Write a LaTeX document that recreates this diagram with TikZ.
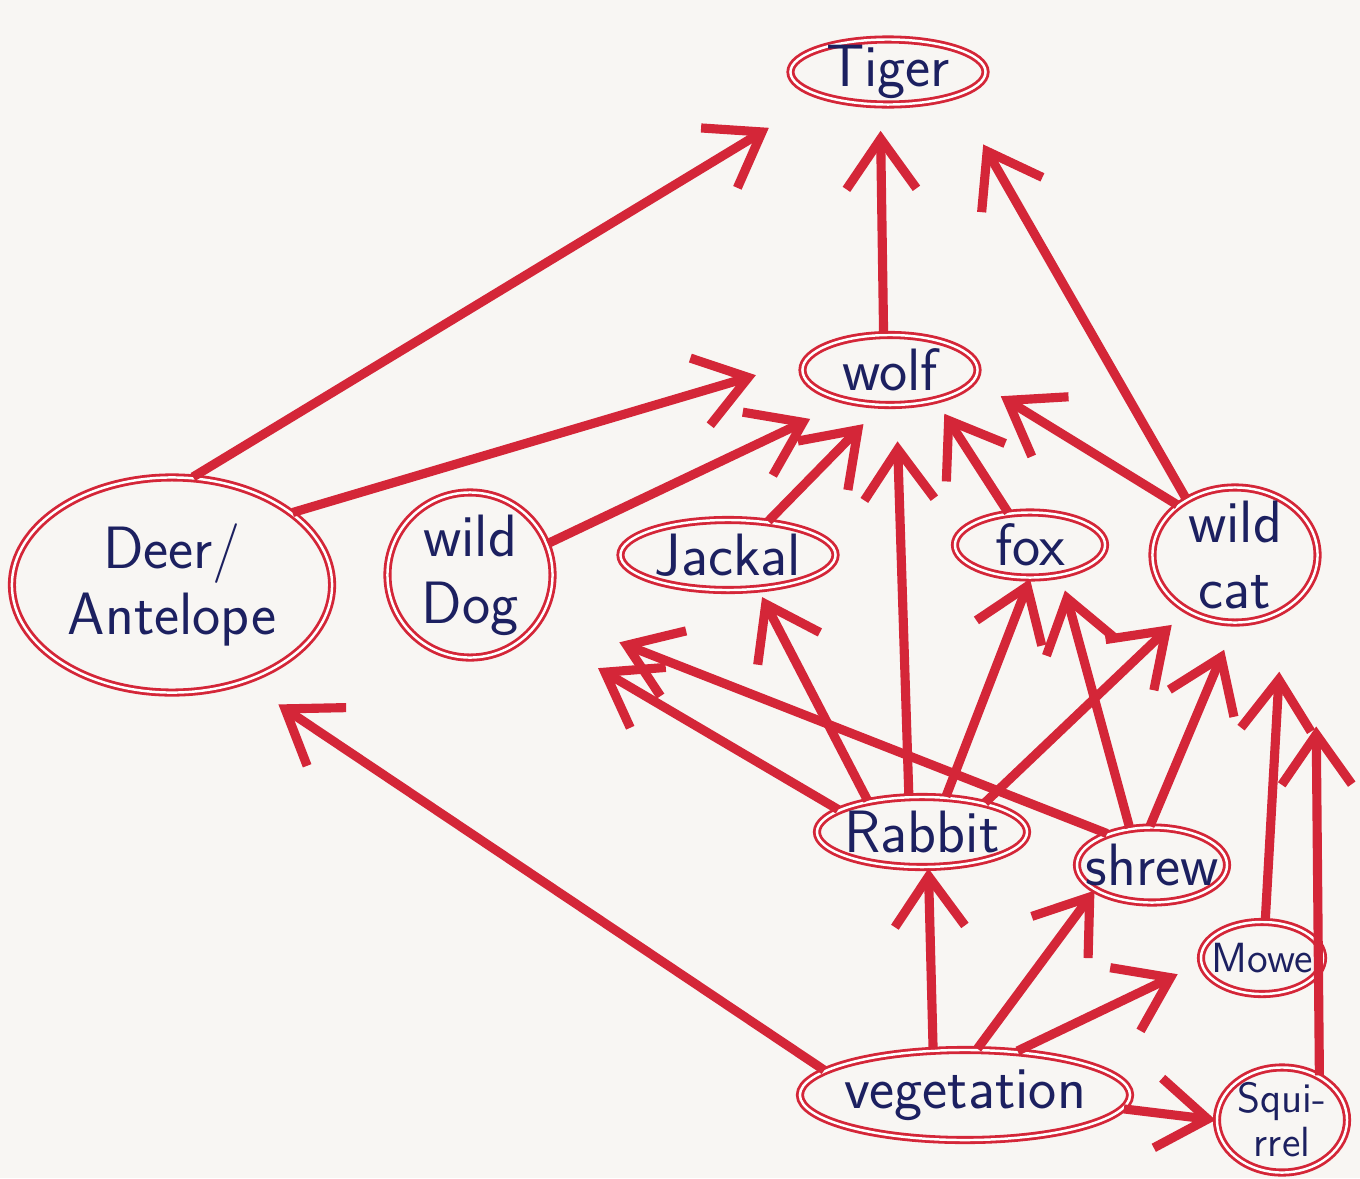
\documentclass[tikz,border=0pt]{standalone}
\usepackage{xcolor}
\usepackage{tikz}
\usetikzlibrary{shapes,arrows.meta,positioning,calc}
\definecolor{penred}{RGB}{212,38,56}
\definecolor{inkblue}{RGB}{28,32,96}
\definecolor{paper}{RGB}{248,246,243}

\begin{document}
\begin{tikzpicture}[x=0.01cm, y=-0.01cm,
    animal/.style={ellipse, draw=penred, double, double distance=0.7pt, line width=0.8pt,
        inner xsep=-0.2cm, inner ysep=-0.15cm, text=inkblue, align=center,
        font=\sffamily\fontsize{17}{19}\selectfont},
    eats/.style={draw=penred, line width=2.6pt, -{Straight Barb[length=5mm,width=7mm]}}]
    \fill[paper] (0,0) rectangle (1360,1178);
    \useasboundingbox (0,0) rectangle (1360,1178);

    % animals
    \node[animal, minimum width=1.95cm, minimum height=0.65cm] (tiger) at (888,72) {Tiger};
    \node[animal, minimum width=1.75cm, minimum height=0.7cm] (wolf) at (890,370) {wolf};
    \node[animal, minimum width=3.2cm, minimum height=2.15cm] (deer) at (172,585) {Deer/\\Antelope};
    \node[animal, minimum width=1.65cm, minimum height=1.65cm] (wilddog) at (470,575) {wild\\Dog};
    \node[animal, minimum width=2.15cm, minimum height=0.7cm] (jackal) at (728,555) {Jackal};
    \node[animal, minimum width=1.5cm, minimum height=0.65cm] (fox) at (1030,545) {fox};
    \node[animal, minimum width=1.65cm, minimum height=1.35cm] (wildcat) at (1235,555) {wild\\cat};
    \node[animal, minimum width=2.1cm, minimum height=0.7cm] (rabbit) at (922,832) {Rabbit};
    \node[animal, minimum width=1.5cm, minimum height=0.75cm] (shrew) at (1152,865) {shrew};
    \node[animal, minimum width=1.22cm, minimum height=0.72cm,
        font=\sffamily\fontsize{12}{13}\selectfont] (mouse) at (1262,958) {Mowe};
    \node[animal, minimum width=3.3cm, minimum height=0.9cm] (veg) at (965,1095) {vegetation};
    \node[animal, minimum width=1.3cm, minimum height=1.05cm, inner ysep=-0.25cm,
        font=\sffamily\fontsize{12}{12.5}\selectfont] (squirrel) at (1282,1120) {Squi-\\rrel};

    % who eats whom
    \draw[eats, shorten >=0.6cm] (deer.79) -- (tiger.200);
    \draw[eats, shorten >=0.5cm] (deer.31) -- (wolf.174);
    \draw[eats, shorten >=0.4cm] (wilddog.22) -- (wolf.216);
    \draw[eats, shorten >=0.25cm] (jackal.40) -- (wolf.256);
    \draw[eats, shorten >=0.35cm] (rabbit.110) -- (wolf.280);
    \draw[eats, shorten >=0.15cm] (fox.124) -- (wolf.326);
    \draw[eats, shorten >=0.3cm] (wildcat.139) -- (wolf.353);
    \draw[eats, shorten >=0.55cm] (wildcat.131) -- (tiger.340);
    \draw[eats, shorten >=0.25cm] (wolf.100) -- (tiger.257);
    \draw[eats, shorten >=0.08cm] (rabbit.150) -- (jackal.311);
    \draw[eats] (rabbit.56) -- (fox.270);
    \draw[eats, shorten >=0.2cm] (rabbit.25) -- (wildcat.229);
    \draw[eats, shorten >=0.75cm] (rabbit.165) -- (wilddog.319);
    \draw[eats, shorten >=0.8cm] (shrew.145) -- (wilddog.333);
    \draw[eats, shorten >=0.15cm] (shrew.121) -- (fox.315);
    \draw[eats, shorten >=0.28cm] (shrew.93) -- (wildcat.270);
    \draw[eats, shorten >=0.6cm] (mouse.85) -- (wildcat.310);
    \draw[eats, shorten >=1.5cm] (squirrel.50) -- (wildcat.345);
    \draw[eats] (veg.125) -- (rabbit.280);
    \draw[eats] (veg.75) -- (shrew.204);
    \draw[eats, shorten >=0.25cm] (veg.40) -- (mouse.185);
    \draw[eats] (veg.355) -- (squirrel.180);
    \draw[eats, shorten >=0.4cm] (veg.170) -- (deer.307);
\end{tikzpicture}
\end{document}
